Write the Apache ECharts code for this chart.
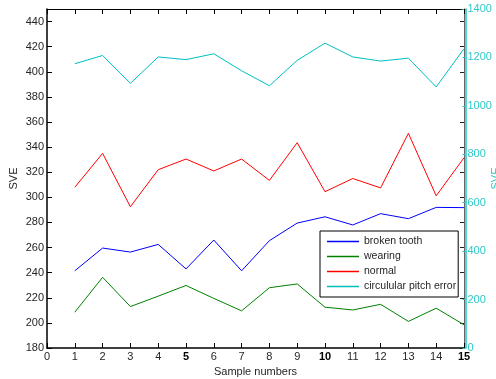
<!DOCTYPE html>
<html>
<head>
<meta charset="utf-8">
<script src="https://cdn.jsdelivr.net/npm/echarts@6/dist/echarts.min.js"></script>
<style>html,body{margin:0;padding:0;background:#fff}#c{width:496px;height:379px}</style>
</head>
<body>
<div id="c"></div>
<script>
var samples = [1,2,3,4,5,6,7,8,9,10,11,12,13,14,15];
var brokenTooth = [241.5,259.6,256.4,262.5,243,266,241.5,265.5,279.5,284.5,278,287,283,292,291.8];
var wearing = [208.5,236.3,213,221.3,229.8,219.5,209.6,228,231,212.5,210.3,214.8,201.2,211.7,198.5];
var normal = [308,335,292.5,322,330.5,321,330.5,313.5,343.5,304.5,315,307.5,351,301.2,331.5];
var pitchError = [1174,1208,1093,1202,1191,1215,1145,1083,1188,1259,1202,1185,1197,1078,1236];
var seriesNames = ['broken tooth','wearing','normal','circulular pitch error'];
var seriesColors = ['#0000ff','#008000','#ff0000','#00bfbf'];
var leftTicks = {min:180, max:450, interval:20};
var rightTicks = {min:0, max:1400, interval:200};

function pairs(vals){ return samples.map(function(x,i){ return [x, vals[i]]; }); }

var chart = echarts.init(document.getElementById('c'), null, {renderer:'canvas'});
var font = 'Liberation Sans, Arial, sans-serif';
var txt = '#262626';
var cyanText = '#2ec8c8';
var option = {
  backgroundColor:'#fff',
  animation:false,
  grid:{left:47, right:32, top:9, bottom:31, containLabel:false, outerBoundsMode:'none'},
  xAxis:[{
    type:'value', position:'bottom', min:0, max:15, interval:1,
    name:'Sample numbers', nameLocation:'middle', nameGap:17,
    nameTextStyle:{fontFamily:font, fontSize:11, color:txt},
    axisLine:{show:true, onZero:false, lineStyle:{color:'#000', width:1.5}},
    axisTick:{show:true, inside:true, length:5, lineStyle:{color:'#000'}},
    axisLabel:{fontFamily:font, fontSize:11, color:txt, margin:3,
      formatter:function(v){ return (v%5===0 && v>0) ? '{b|'+v+'}' : String(v); },
      rich:{b:{fontFamily:font, fontSize:11, fontWeight:'bold', color:'#000'}}},
    splitLine:{show:false}
  },{
    type:'value', position:'top', min:0, max:15, interval:1,
    axisLine:{show:true, onZero:false, lineStyle:{color:'#000', width:1}},
    axisTick:{show:true, inside:true, length:5, lineStyle:{color:'#000'}},
    axisLabel:{show:false}, splitLine:{show:false}
  }],
  yAxis:[{
    type:'value', position:'left', min:leftTicks.min, max:leftTicks.max, interval:leftTicks.interval,
    name:'SVE', nameLocation:'middle', nameGap:28, nameRotate:90, nameMoveOverlap:false,
    nameTextStyle:{fontFamily:font, fontSize:11, color:txt},
    axisLine:{show:true, onZero:false, lineStyle:{color:'#000', width:1.5}},
    axisTick:{show:true, inside:true, length:5, lineStyle:{color:'#000'}},
    axisLabel:{fontFamily:font, fontSize:11, color:txt, margin:3,
      formatter:function(v){ return v===450 ? '' : String(v); }},
    splitLine:{show:false}
  },{
    type:'value', position:'right', offset:0, min:leftTicks.min, max:leftTicks.max, interval:leftTicks.interval,
    axisLine:{show:true, onZero:false, lineStyle:{color:'#666', width:1}},
    axisTick:{show:true, inside:true, length:4, lineStyle:{color:'#222'}},
    axisLabel:{show:false}, splitLine:{show:false}
  },{
    type:'value', position:'right', offset:1.5, min:rightTicks.min, max:rightTicks.max, interval:rightTicks.interval,
    name:'SVE', nameLocation:'middle', nameGap:25, nameRotate:90, nameMoveOverlap:false,
    nameTextStyle:{fontFamily:font, fontSize:11, color:cyanText},
    axisLine:{show:true, onZero:false, lineStyle:{color:'#22c4c4', width:1.5}},
    axisTick:{show:true, inside:true, length:3, lineStyle:{color:'#22c4c4'}},
    axisLabel:{fontFamily:font, fontSize:11, color:cyanText, margin:2,
      formatter:function(v){ return String(v); }},
    splitLine:{show:false}
  }],
  legend:{
    orient:'vertical', left:320, top:231,
    data:seriesNames,
    icon:'rect',
    itemWidth:32, itemHeight:1.5, itemGap:4,
    padding:[5,2,5,7],
    backgroundColor:'#fff', borderColor:'#000', borderWidth:1,
    textStyle:{fontFamily:font, fontSize:10.5, color:txt, lineHeight:11},
    z:10
  },
  series:[brokenTooth, wearing, normal, pitchError].map(function(vals,i){
    return {
      name:seriesNames[i], type:'line', xAxisIndex:0, yAxisIndex: i===3 ? 2 : 0,
      data:pairs(vals), symbol:'none', showSymbol:false,
      lineStyle:{color:seriesColors[i], width:1},
      itemStyle:{color:seriesColors[i]}
    };
  })
};
chart.setOption(option);
</script>
</body>
</html>
